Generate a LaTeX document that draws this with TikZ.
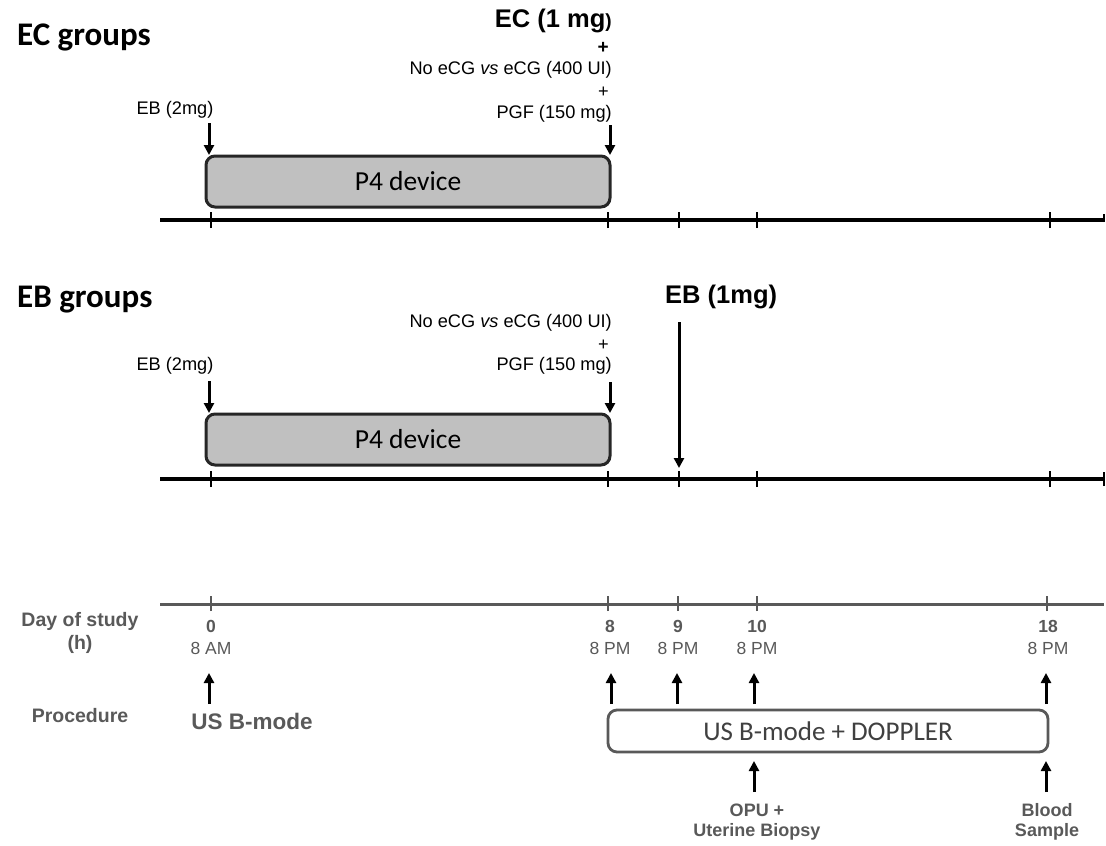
\documentclass[tikz,border=0pt]{standalone}
\usepackage{fontspec}
\setmainfont{Liberation Sans}
\newfontfamily\calib{Carlito}
\usetikzlibrary{arrows.meta}
\definecolor{tgray}{HTML}{595959}
\definecolor{boxgray}{HTML}{C0C0C0}
\definecolor{dgray}{HTML}{404040}
\newcommand{\fs}[1]{\fontsize{#1}{#1}\selectfont}
\tikzset{
  axisline/.style={line width=3.5pt, black},
  grayaxis/.style={line width=3pt, tgray},
  tickmark/.style={line width=2.2pt},
  arr/.style={line width=3pt, -{Triangle[length=10pt,width=10pt]}},
  devbox/.style={draw=black!85, line width=3pt, fill=boxgray, rounded corners=9pt,
    font=\calib\fs{27.5}, inner sep=0pt},
  procbox/.style={draw=tgray, line width=2.8pt, fill=white, rounded corners=9pt,
    font=\calib\fs{27}, text=dgray, inner sep=0pt},
  lbl/.style={inner sep=0pt, font=\fs{18.2}},
  blbl/.style={inner sep=0pt, font=\bfseries\fs{25.5}},
  title/.style={inner sep=0pt, font=\calib\bfseries\fs{33}, anchor=base west},
  glbl/.style={inner sep=0pt, font=\bfseries\fs{18}, text=tgray, align=center},
  gnum/.style={inner sep=0pt, font=\bfseries\fs{17.5}, text=tgray},
  gtime/.style={inner sep=0pt, font=\fs{17.5}, text=tgray},
}
\begin{document}
\begin{tikzpicture}[x=1pt,y=-1pt]
\useasboundingbox (0,0) rectangle (1106,846);

% ---------------- EC groups ----------------
\node[title] (ectitle) at (17,45) {EC groups};
\node[blbl, anchor=east] (ec1) at (612,21) {EC (1 mg{\fs{19})}};
\node[lbl, font=\bfseries\fs{19}, anchor=east] (ecplus1) at (609,48) {+};
\node[lbl, anchor=east] (ecnoecg) at (612,70) {No eCG \textit{vs} eCG (400 UI)};
\node[lbl, anchor=east] (ecplus2) at (609,92) {+};
\node[lbl, anchor=east] (ecpgf) at (612,114) {PGF (150 mg)};
\node[lbl] (eceb) at (175,110) {EB (2mg)};
\node[devbox, minimum width=404, minimum height=51] (dev1) at (408,181.5) {P4 device};

\coordinate (ecA0) at (209,123);
\coordinate (ecA1) at (209,155);
\coordinate (ecB0) at (610,125);
\coordinate (ecB1) at (610,155);
\draw[arr] (ecA0) -- (ecA1);
\draw[arr] (ecB0) -- (ecB1);

\coordinate (ax1L) at (160,220);
\coordinate (ax1R) at (1104,220);
\draw[axisline] (ax1L) -- (ax1R);
\foreach \x/\n in {211/a,608/b,679/c,757/d,1050/e}{
  \coordinate (t1\n) at (\x,220);
  \draw[tickmark] ([yshift=-8pt]t1\n) -- ([yshift=8pt]t1\n);
}
\draw[tickmark] ([yshift=-2pt]ax1R) -- ([yshift=6pt]ax1R);

% ---------------- EB groups ----------------
\node[title] (ebtitle) at (17,307) {EB groups};
\node[blbl, anchor=west] (eb1) at (665,297) {EB (1mg)};
\node[lbl, anchor=east] (ebnoecg) at (612,323) {No eCG \textit{vs} eCG (400 UI)};
\node[lbl, anchor=east] (ebplus) at (609,345) {+};
\node[lbl, anchor=east] (ebpgf) at (612,366) {PGF (150 mg)};
\node[lbl] (ebeb) at (175,366) {EB (2mg)};
\node[devbox, minimum width=404, minimum height=51] (dev2) at (408,439.5) {P4 device};

\coordinate (ebA0) at (209,381);
\coordinate (ebA1) at (209,413);
\coordinate (ebB0) at (610,382);
\coordinate (ebB1) at (610,413);
\coordinate (ebC0) at (679,322);
\coordinate (ebC1) at (679,468);
\draw[arr] (ebA0) -- (ebA1);
\draw[arr] (ebB0) -- (ebB1);
\draw[arr] (ebC0) -- (ebC1);

\coordinate (ax2L) at (160,479);
\coordinate (ax2R) at (1104,479);
\draw[axisline] (ax2L) -- (ax2R);
\foreach \x/\n in {211/a,608/b,679/c,757/d,1050/e}{
  \coordinate (t2\n) at (\x,479);
  \draw[tickmark] ([yshift=-8pt]t2\n) -- ([yshift=8pt]t2\n);
}
\draw[tickmark] ([yshift=-7pt]ax2R) -- ([yshift=7pt]ax2R);

% ---------------- Day of study axis ----------------
\coordinate (ax3L) at (160,604);
\coordinate (ax3R) at (1104,604);
\draw[grayaxis] (ax3L) -- (ax3R);
\foreach \x/\n in {211/a,608/b,678/c,757/d,1047/e}{
  \coordinate (t3\n) at (\x,604);
  \draw[tickmark, tgray] ([yshift=-7pt]t3\n) -- ([yshift=8pt]t3\n);
}

\node[glbl, font=\bfseries\fs{19.5}] (dos) at (80,633) {Day of study\\[3pt](h)};
\node[gnum] (n0) at (211,626) {0};
\node[gtime] (h0) at (211,648) {8 AM};
\node[gnum] (n8) at (610,626) {8};
\node[gtime] (h8) at (610,648) {8 PM};
\node[gnum] (n9) at (678,626) {9};
\node[gtime] (h9) at (678,648) {8 PM};
\node[gnum] (n10) at (757,626) {10};
\node[gtime] (h10) at (757,648) {8 PM};
\node[gnum] (n18) at (1048,626) {18};
\node[gtime] (h18) at (1048,648) {8 PM};

% ---------------- Procedure ----------------
\node[glbl, font=\bfseries\fs{19.5}] (proc) at (80,716) {Procedure};
\node[glbl, font=\bfseries\fs{22.5}] (usb) at (252,721) {US B-mode};
\node[procbox, minimum width=440, minimum height=42] (dop) at (828,731) {US B-mode + DOPPLER};

\foreach \x/\n in {209/a,611/b,677/c,754/d,1046/e}{
  \coordinate (p\n0) at (\x,704);
  \coordinate (p\n1) at (\x,673);
  \draw[arr] (p\n0) -- (p\n1);
}
\coordinate (q10) at (754,792);
\coordinate (q11) at (754,761);
\coordinate (q20) at (1046,792);
\coordinate (q21) at (1046,761);
\draw[arr] (q10) -- (q11);
\draw[arr] (q20) -- (q21);

\node[glbl] (opu) at (757,822) {OPU +\\[2pt]Uterine Biopsy};
\node[glbl] (blood) at (1047,822) {Blood\\[2pt]Sample};
\end{tikzpicture}
\end{document}
